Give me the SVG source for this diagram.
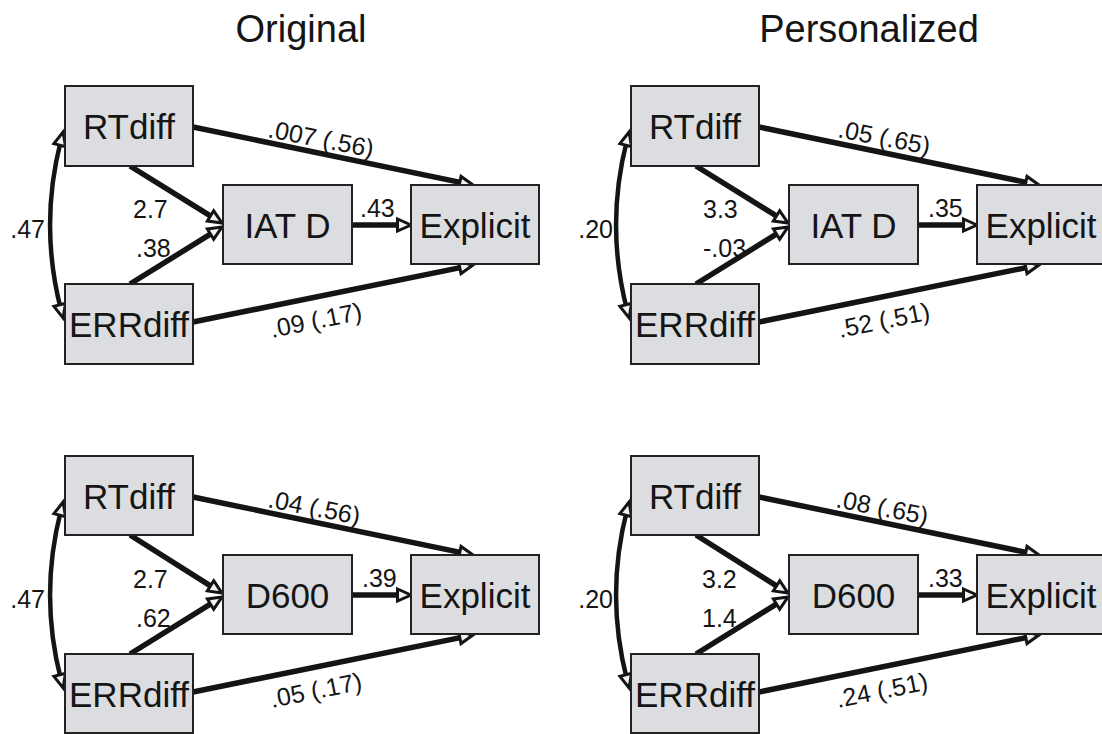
<svg xmlns="http://www.w3.org/2000/svg" width="1102" height="734" viewBox="0 0 1102 734">
  <style>
    .box { fill: #dcdde0; stroke: #222222; stroke-width: 2; }
    .name { font-family: "Liberation Sans", Arial, Helvetica, sans-serif; font-size: 35px; fill: #151515; text-anchor: middle; }
    .title { font-family: "Liberation Sans", Arial, Helvetica, sans-serif; font-size: 38px; fill: #151515; text-anchor: middle; }
    .coef { font-family: "Liberation Sans", Arial, Helvetica, sans-serif; font-size: 25px; fill: #151515; }
    .end { text-anchor: end; }
    .path { fill: none; stroke: #141414; stroke-width: 5.5; marker-end: url(#head); }
    .cov { fill: none; stroke: #141414; stroke-width: 4.5; marker-start: url(#head); marker-end: url(#head); }
  </style>
  <defs>
    <!-- open arrowhead; tip sits 8px past the end of the line -->
    <marker id="head" markerUnits="userSpaceOnUse" viewBox="-8 -8 18 16" refX="0" refY="0" markerWidth="18" markerHeight="16" orient="auto-start-reverse" overflow="visible">
      <path d="M8,0 L-5.5,-6 L-5.5,6 Z" fill="#f4f4f4" stroke="#141414" stroke-width="3" stroke-linejoin="miter"/>
    </marker>
  </defs>

  <rect width="1102" height="734" fill="#ffffff"/>

  <text class="title" x="301" y="42">Original</text>
  <text class="title" x="869" y="42">Personalized</text>

  <!-- ===== Original, IAT D ===== -->
  <g id="connectors-orig-iat">
    <path class="cov" d="M61.1,139.8 Q39,225 61.1,310.2"/>
    <path class="path" d="M130,166 L215.2,218.8"/>
    <path class="path" d="M130,284 L215.2,231.2"/>
    <path class="path" d="M193,127 L465.2,183.4"/>
    <path class="path" d="M193,322 L465.2,266.6"/>
    <path class="path" d="M352,225 L403,225"/>
  </g>
  <g id="orig-iat-rtdiff"><rect class="box" x="65" y="86" width="128" height="80"/><text class="name" x="129" y="139">RTdiff</text></g>
  <g id="orig-iat-errdiff"><rect class="box" x="65" y="284" width="128" height="80"/><text class="name" x="129" y="337">ERRdiff</text></g>
  <g id="orig-iat-iatd"><rect class="box" x="223" y="185" width="129" height="79"/><text class="name" x="287.5" y="237.5">IAT D</text></g>
  <g id="orig-iat-explicit"><rect class="box" x="411" y="185" width="128" height="79"/><text class="name" x="475" y="237.5">Explicit</text></g>
  <g id="labels-orig-iat">
    <text class="coef end" x="45" y="238">.47</text>
    <text class="coef" x="133" y="218">2.7</text>
    <text class="coef" x="136" y="257">.38</text>
    <text class="coef" x="360" y="217">.43</text>
    <text class="coef" transform="translate(267,137) rotate(11)">.007 (.56)</text>
    <text class="coef" transform="translate(272,338) rotate(-11.5)">.09 (.17)</text>
  </g>

  <!-- ===== Personalized, IAT D ===== -->
  <g id="connectors-pers-iat">
    <path class="cov" d="M627.1,139.8 Q605,225 627.1,310.2"/>
    <path class="path" d="M696,166 L781.2,218.8"/>
    <path class="path" d="M696,284 L781.2,231.2"/>
    <path class="path" d="M759,127 L1031.2,183.4"/>
    <path class="path" d="M759,322 L1031.2,266.6"/>
    <path class="path" d="M918,225 L969,225"/>
  </g>
  <g id="pers-iat-rtdiff"><rect class="box" x="631" y="86" width="128" height="80"/><text class="name" x="695" y="139">RTdiff</text></g>
  <g id="pers-iat-errdiff"><rect class="box" x="631" y="284" width="128" height="80"/><text class="name" x="695" y="337">ERRdiff</text></g>
  <g id="pers-iat-iatd"><rect class="box" x="789" y="185" width="129" height="79"/><text class="name" x="853.5" y="237.5">IAT D</text></g>
  <g id="pers-iat-explicit"><rect class="box" x="977" y="185" width="128" height="79"/><text class="name" x="1041" y="237.5">Explicit</text></g>
  <g id="labels-pers-iat">
    <text class="coef end" x="613" y="238">.20</text>
    <text class="coef" x="703" y="218">3.3</text>
    <text class="coef" x="703" y="257">-.03</text>
    <text class="coef" x="928" y="217">.35</text>
    <text class="coef" transform="translate(837,137) rotate(11)">.05 (.65)</text>
    <text class="coef" transform="translate(840,338) rotate(-11.5)">.52 (.51)</text>
  </g>

  <!-- ===== Original, D600 ===== -->
  <g id="connectors-orig-d600">
    <path class="cov" d="M61.1,509.8 Q39,595 61.1,680.2"/>
    <path class="path" d="M130,535 L215.2,588.8"/>
    <path class="path" d="M130,654 L215.2,601.2"/>
    <path class="path" d="M193,497 L465.2,553.4"/>
    <path class="path" d="M193,692 L465.2,636.6"/>
    <path class="path" d="M352,595 L403,595"/>
  </g>
  <g id="orig-d600-rtdiff"><rect class="box" x="65" y="456" width="128" height="79"/><text class="name" x="129" y="508.5">RTdiff</text></g>
  <g id="orig-d600-errdiff"><rect class="box" x="65" y="654" width="128" height="79"/><text class="name" x="129" y="706.5">ERRdiff</text></g>
  <g id="orig-d600-d600"><rect class="box" x="223" y="555" width="129" height="79"/><text class="name" x="287.5" y="607.5">D600</text></g>
  <g id="orig-d600-explicit"><rect class="box" x="411" y="555" width="128" height="79"/><text class="name" x="475" y="607.5">Explicit</text></g>
  <g id="labels-orig-d600">
    <text class="coef end" x="45" y="608">.47</text>
    <text class="coef" x="133" y="588">2.7</text>
    <text class="coef" x="136" y="627">.62</text>
    <text class="coef" x="362" y="587">.39</text>
    <text class="coef" transform="translate(267,507) rotate(11)">.04 (.56)</text>
    <text class="coef" transform="translate(272,708) rotate(-11.5)">.05 (.17)</text>
  </g>

  <!-- ===== Personalized, D600 ===== -->
  <g id="connectors-pers-d600">
    <path class="cov" d="M627.1,509.8 Q605,595 627.1,680.2"/>
    <path class="path" d="M696,535 L781.2,588.8"/>
    <path class="path" d="M696,654 L781.2,601.2"/>
    <path class="path" d="M759,497 L1031.2,553.4"/>
    <path class="path" d="M759,692 L1031.2,636.6"/>
    <path class="path" d="M918,595 L969,595"/>
  </g>
  <g id="pers-d600-rtdiff"><rect class="box" x="631" y="456" width="128" height="79"/><text class="name" x="695" y="508.5">RTdiff</text></g>
  <g id="pers-d600-errdiff"><rect class="box" x="631" y="654" width="128" height="79"/><text class="name" x="695" y="706.5">ERRdiff</text></g>
  <g id="pers-d600-d600"><rect class="box" x="789" y="555" width="129" height="79"/><text class="name" x="853.5" y="607.5">D600</text></g>
  <g id="pers-d600-explicit"><rect class="box" x="977" y="555" width="128" height="79"/><text class="name" x="1041" y="607.5">Explicit</text></g>
  <g id="labels-pers-d600">
    <text class="coef end" x="613" y="608">.20</text>
    <text class="coef" x="702" y="588">3.2</text>
    <text class="coef" x="702" y="627">1.4</text>
    <text class="coef" x="928" y="587">.33</text>
    <text class="coef" transform="translate(835,507) rotate(11)">.08 (.65)</text>
    <text class="coef" transform="translate(838,708) rotate(-11.5)">.24 (.51)</text>
  </g>
</svg>
